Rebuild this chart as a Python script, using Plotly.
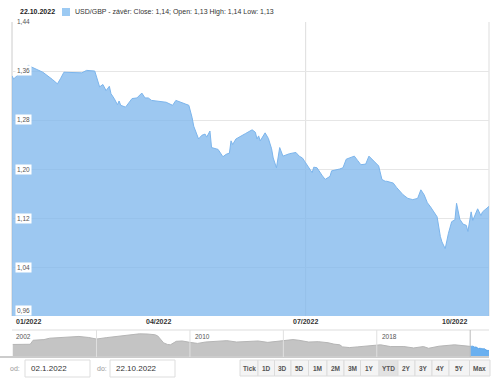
import plotly.graph_objects as go

# ---------------- data ----------------
dates = [
    "2022-01-01", "2022-01-02", "2022-01-11", "2022-01-14", "2022-01-20", "2022-01-26", "2022-01-29",
    "2022-01-31", "2022-02-02", "2022-02-13", "2022-02-16", "2022-02-21", "2022-02-23", "2022-02-24",
    "2022-02-26", "2022-02-28", "2022-03-02", "2022-03-03", "2022-03-05", "2022-03-07", "2022-03-08",
    "2022-03-09", "2022-03-12", "2022-03-16", "2022-03-19", "2022-03-22", "2022-03-24", "2022-03-26",
    "2022-03-28", "2022-04-02", "2022-04-06", "2022-04-10", "2022-04-12", "2022-04-18", "2022-04-20",
    "2022-04-22", "2022-04-23", "2022-04-26", "2022-04-28", "2022-04-30", "2022-05-01", "2022-05-03",
    "2022-05-04", "2022-05-08", "2022-05-11", "2022-05-13", "2022-05-15", "2022-05-16", "2022-05-17",
    "2022-05-19", "2022-05-22", "2022-05-25", "2022-05-29", "2022-05-31", "2022-06-01", "2022-06-02",
    "2022-06-03", "2022-06-06", "2022-06-08", "2022-06-10", "2022-06-11", "2022-06-13", "2022-06-15",
    "2022-06-17", "2022-06-21", "2022-06-25", "2022-06-27", "2022-06-29", "2022-07-01", "2022-07-05",
    "2022-07-06", "2022-07-08", "2022-07-11", "2022-07-13", "2022-07-16", "2022-07-17", "2022-07-22",
    "2022-07-24", "2022-07-26", "2022-07-29", "2022-07-31", "2022-08-02", "2022-08-04", "2022-08-07",
    "2022-08-09", "2022-08-12", "2022-08-15", "2022-08-17", "2022-08-19", "2022-08-20", "2022-08-22",
    "2022-08-24", "2022-08-26", "2022-08-30", "2022-09-02", "2022-09-05", "2022-09-08", "2022-09-10",
    "2022-09-12", "2022-09-14", "2022-09-16", "2022-09-19", "2022-09-20", "2022-09-22", "2022-09-23",
    "2022-09-25", "2022-09-27", "2022-09-29", "2022-10-01", "2022-10-02", "2022-10-04", "2022-10-06",
    "2022-10-08", "2022-10-09", "2022-10-11", "2022-10-12", "2022-10-15", "2022-10-17", "2022-10-18",
    "2022-10-22",
]
close = [
    1.352, 1.347, 1.369, 1.365, 1.358, 1.346, 1.339,
    1.348, 1.358, 1.357, 1.361, 1.360, 1.345, 1.334,
    1.338, 1.328, 1.335, 1.323, 1.315, 1.305, 1.311,
    1.304, 1.301, 1.315, 1.316, 1.324, 1.316, 1.316,
    1.312, 1.311, 1.309, 1.304, 1.312, 1.306, 1.304,
    1.284, 1.270, 1.249, 1.255, 1.257, 1.252, 1.262,
    1.235, 1.232, 1.220, 1.224, 1.226, 1.246, 1.240,
    1.249, 1.254, 1.258, 1.264, 1.260, 1.249, 1.254,
    1.246, 1.259, 1.250, 1.233, 1.218, 1.202, 1.235,
    1.221, 1.225, 1.227, 1.221, 1.218, 1.210, 1.194,
    1.203, 1.202, 1.190, 1.183, 1.188, 1.197, 1.200,
    1.202, 1.216, 1.219, 1.221, 1.214, 1.207, 1.208,
    1.221, 1.213, 1.205, 1.183, 1.180, 1.180, 1.178,
    1.177, 1.170, 1.158, 1.152, 1.150, 1.152, 1.166,
    1.158, 1.145, 1.138, 1.126, 1.122, 1.090, 1.081,
    1.070, 1.095, 1.114, 1.117, 1.144, 1.118, 1.110,
    1.108, 1.098, 1.130, 1.116, 1.135, 1.124, 1.130,
    1.139,
]

nav_dates = [
    "2002-06-01", "2002-10-01", "2003-03-01", "2003-04-15", "2003-10-01", "2004-01-01", "2004-06-01",
    "2004-11-01", "2005-04-01", "2005-09-01", "2006-01-01", "2006-06-01", "2006-12-01", "2007-05-01",
    "2007-08-01", "2007-11-01", "2008-03-01", "2008-07-01", "2008-08-15", "2008-10-01", "2008-11-15",
    "2009-01-15", "2009-03-01", "2009-06-01", "2009-09-01", "2010-01-01", "2010-05-01", "2010-09-01",
    "2011-03-01", "2011-08-01", "2012-01-01", "2012-06-01", "2012-12-01", "2013-05-01", "2013-12-01",
    "2014-06-01", "2014-09-01", "2015-02-01", "2015-07-01", "2015-12-01", "2016-03-01", "2016-06-01",
    "2016-07-15", "2016-11-01", "2017-03-01", "2017-09-01", "2018-03-01", "2018-08-01", "2019-03-01",
    "2019-08-01", "2020-01-01", "2020-03-20", "2020-09-01", "2021-05-01", "2021-12-01", "2022-01-01",
]
nav_values = [
    1.46, 1.48, 1.47, 1.70, 1.74, 1.82, 1.86,
    1.90, 1.92, 1.86, 1.77, 1.85, 1.94, 2.00,
    2.04, 2.07, 2.06, 2.02, 1.95, 1.72, 1.55,
    1.46, 1.44, 1.64, 1.66, 1.58, 1.52, 1.60,
    1.66, 1.68, 1.60, 1.62, 1.66, 1.58, 1.66,
    1.74, 1.70, 1.60, 1.62, 1.56, 1.48, 1.44,
    1.32, 1.28, 1.32, 1.40, 1.44, 1.34, 1.34,
    1.26, 1.34, 1.24, 1.36, 1.44, 1.38, 1.35,
]

y_ticks = [0.96, 1.04, 1.12, 1.20, 1.28, 1.36, 1.44]
y_tick_labels = ["0,96", "1,04", "1,12", "1,20", "1,28", "1,36", "1,44"]
x_ticks = ["2022-01-01", "2022-04-01", "2022-07-01", "2022-10-01"]
x_tick_labels = ["01/2022", "04/2022", "07/2022", "10/2022"]
nav_grid = ["2006-01-01", "2010-01-01", "2014-01-01", "2018-01-01"]
nav_labels = ["2002", "2010", "2018"]
nav_label_dates = ["2002-06-01", "2010-01-01", "2018-01-01"]

header_date = "22.10.2022"
legend_text = "USD/GBP - závěr: Close: 1,14; Open: 1,13 High: 1,14 Low: 1,13"
date_from = "02.1.2022"
date_to = "22.10.2022"
buttons = ["Tick", "1D", "3D", "5D", "1M", "2M", "3M", "1Y", "YTD", "2Y", "3Y", "4Y", "5Y", "Max"]
active_button = "YTD"

# ---------------- layout helpers ----------------
W, H = 500, 381


def fx(px):
    return px / W


def fy(py):
    return 1 - py / H


FONT = "Liberation Sans, Arial, sans-serif"
BLUE_LINE = "#7cb5ec"
BLUE_FILL = "rgba(124,181,236,0.75)"

fig = go.Figure()

fig.add_trace(go.Scatter(
    x=dates, y=close, mode="lines", fill="tozeroy",
    line=dict(color=BLUE_LINE, width=1), fillcolor=BLUE_FILL,
    xaxis="x", yaxis="y", hoverinfo="skip", showlegend=False,
))
fig.add_trace(go.Scatter(
    x=nav_dates, y=nav_values, mode="lines", fill="tozeroy",
    line=dict(color="#b5b5b5", width=1), fillcolor="#c4c4c4",
    xaxis="x2", yaxis="y2", hoverinfo="skip", showlegend=False,
))
fig.add_trace(go.Scatter(
    x=dates, y=close, mode="lines", fill="tozeroy",
    line=dict(color="#5aa5ea", width=1), fillcolor="#6ab0f0",
    xaxis="x2", yaxis="y2", hoverinfo="skip", showlegend=False,
))

shapes = []
annotations = []

# main plot frame lines
shapes.append(dict(type="line", xref="paper", yref="paper", x0=fx(12), x1=fx(12),
                   y0=fy(316), y1=fy(22), line=dict(color="#cccccc", width=1), layer="below"))
shapes.append(dict(type="line", xref="paper", yref="paper", x0=fx(489), x1=fx(489),
                   y0=fy(316), y1=fy(22), line=dict(color="#dddddd", width=1), layer="below"))
# vertical marker at 07/2022
shapes.append(dict(type="line", xref="x", yref="paper", x0=x_ticks[2], x1=x_ticks[2],
                   y0=fy(316), y1=fy(22), line=dict(color="#dddddd", width=1), layer="below"))

# y labels with white boxes
for i, (v, lab) in enumerate(zip(y_ticks, y_tick_labels)):
    annotations.append(dict(
        x=fx(15), xref="paper", y=v, yref="y", text=lab, showarrow=False,
        xanchor="left", yanchor="bottom" if i == 0 else "middle",
        bgcolor="white", borderpad=1, font=dict(family=FONT, size=6.5, color="#555555"),
    ))

# x labels
for i, (d, lab) in enumerate(zip(x_ticks, x_tick_labels)):
    annotations.append(dict(
        x=d, xref="x", y=fy(321), yref="paper", text="<b>" + lab + "</b>", showarrow=False,
        xanchor="left" if i == 0 else "center", xshift=2 if i == 0 else 0, yanchor="middle",
        font=dict(family=FONT, size=7, color="#333333"),
    ))

# header
annotations.append(dict(x=fx(18), xref="paper", y=fy(12), yref="paper", text="<b>" + header_date + "</b>",
                        showarrow=False, xanchor="left", yanchor="middle",
                        font=dict(family=FONT, size=7, color="#222222")))
shapes.append(dict(type="rect", xref="paper", yref="paper", x0=fx(62), x1=fx(70), y0=fy(16), y1=fy(8),
                   fillcolor="#9ccaf3", line=dict(width=0)))
annotations.append(dict(x=fx(73), xref="paper", y=fy(12), yref="paper", text=legend_text,
                        showarrow=False, xanchor="left", yanchor="middle",
                        font=dict(family=FONT, size=7, color="#333333")))

# navigator frame
shapes.append(dict(type="line", xref="paper", yref="paper", x0=fx(12), x1=fx(489), y0=fy(330), y1=fy(330),
                   line=dict(color="#dddddd", width=1)))
shapes.append(dict(type="line", xref="paper", yref="paper", x0=0, x1=fx(489), y0=fy(357), y1=fy(357),
                   line=dict(color="#cccccc", width=2)))
for d in nav_grid:
    shapes.append(dict(type="line", xref="x2", yref="paper", x0=d, x1=d, y0=fy(357), y1=fy(330),
                       line=dict(color="#e0e0e0", width=1)))
shapes.append(dict(type="line", xref="x2", yref="paper", x0=dates[0], x1=dates[0], y0=fy(357), y1=fy(330),
                   line=dict(color="#bbbbbb", width=1)))
for i, (d, lab) in enumerate(zip(nav_label_dates, nav_labels)):
    annotations.append(dict(x=d, xref="x2", y=fy(336), yref="paper", text=lab, showarrow=False,
                            xanchor="left", xshift=1 if i == 0 else 3, yanchor="middle",
                            font=dict(family=FONT, size=6.5, color="#555555")))

# bottom controls
annotations.append(dict(x=fx(8), xref="paper", y=fy(368), yref="paper", text="od:", showarrow=False,
                        xanchor="left", yanchor="middle", font=dict(family=FONT, size=7, color="#999999")))
annotations.append(dict(x=fx(95), xref="paper", y=fy(368), yref="paper", text="do:", showarrow=False,
                        xanchor="left", yanchor="middle", font=dict(family=FONT, size=7, color="#999999")))
for x0, x1, txt in [(25, 90, date_from), (110, 175, date_to)]:
    shapes.append(dict(type="rect", xref="paper", yref="paper", x0=fx(x0), x1=fx(x1), y0=fy(377), y1=fy(360),
                       fillcolor="white", line=dict(color="#dddddd", width=1)))
    annotations.append(dict(x=fx(x0 + 4), xref="paper", y=fy(368.5), yref="paper", text=txt, showarrow=False,
                            xanchor="left", yanchor="middle", font=dict(family=FONT, size=8, color="#333333")))

edges = [240, 258, 274.5, 291, 308.5, 327, 344, 360.5, 379, 398, 415, 432, 449, 469.5, 490]
for i, lab in enumerate(buttons):
    a, b = edges[i], edges[i + 1]
    shapes.append(dict(type="rect", xref="paper", yref="paper", x0=fx(a), x1=fx(b), y0=fy(376), y1=fy(360),
                       fillcolor="#e2e2e2" if lab == active_button else "#f4f4f4",
                       line=dict(color="#dcdcdc", width=1)))
    annotations.append(dict(x=fx((a + b) / 2), xref="paper", y=fy(368), yref="paper", text="<b>" + lab + "</b>",
                            showarrow=False, xanchor="center", yanchor="middle",
                            font=dict(family=FONT, size=6.5, color="#555555")))

fig.update_layout(
    width=W, height=H, margin=dict(l=0, r=0, t=0, b=0),
    paper_bgcolor="white", plot_bgcolor="white",
    xaxis=dict(domain=[fx(12), fx(489)], range=["2022-01-01", "2022-10-22"], type="date",
               showgrid=False, showticklabels=False, zeroline=False, showline=False, anchor="y"),
    yaxis=dict(domain=[fy(316), fy(22)], range=[0.96, 1.44], tickvals=y_ticks, showticklabels=False,
               gridcolor="#e6e6e6", gridwidth=1, zeroline=False, showline=False, anchor="x"),
    xaxis2=dict(domain=[fx(12), fx(489)], range=["2002-05-20", "2022-10-22"], type="date",
                showgrid=False, showticklabels=False, zeroline=False, showline=False, anchor="y2"),
    yaxis2=dict(domain=[fy(357), fy(330)], range=[0.74, 2.29], showgrid=False, showticklabels=False,
                zeroline=False, showline=False, anchor="x2"),
    shapes=shapes, annotations=annotations, showlegend=False, hovermode=False,
)

fig.write_html(
    "out.html",
    config={"displayModeBar": False, "staticPlot": True},
    post_script="document.body.style.margin='0';document.body.style.overflow='hidden';",
)
